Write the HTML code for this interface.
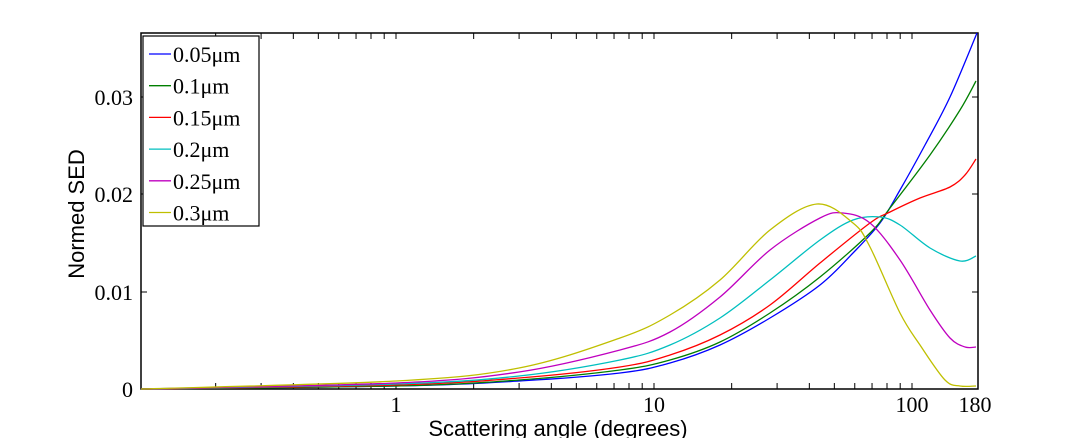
<!DOCTYPE html>
<html><head><style>
body{margin:0;background:#fff;}
svg text{font-family:"Liberation Serif",serif;font-size:22px;fill:#000;}
.s{font-family:"Liberation Sans",sans-serif;}
</style></head><body>
<svg id="c" width="1080" height="438" xmlns="http://www.w3.org/2000/svg">
<rect x="141" y="33" width="837" height="356" fill="#fff" stroke="#000" stroke-width="1.5"/>
<g id="ticks" stroke="#000" stroke-width="1"></g>
<g id="curves" fill="none" stroke-width="1.3"></g>
<text x="133" y="397" text-anchor="end">0</text>
<text x="133" y="300" text-anchor="end">0.01</text>
<text x="133" y="202" text-anchor="end">0.02</text>
<text x="133" y="105" text-anchor="end">0.03</text>
<text x="396" y="412" text-anchor="middle">1</text>
<text x="654" y="412" text-anchor="middle">10</text>
<text x="912" y="412" text-anchor="middle">100</text>
<text x="975" y="412" text-anchor="middle">180</text>
<text class="s" x="558" y="436" text-anchor="middle">Scattering angle (degrees)</text>
<text class="s" transform="translate(84,214) rotate(-90)" text-anchor="middle">Normed SED</text>
<rect x="143" y="36" width="116" height="190" fill="#fff" stroke="#000" stroke-width="1.2"/>
<g id="leg"></g>
</svg>
<script>
var ns="http://www.w3.org/2000/svg";
function el(p,t,a){var e=document.createElementNS(ns,t);for(var k in a)e.setAttribute(k,a[k]);p.appendChild(e);return e;}
var T=document.getElementById('ticks');
function X(v){return 396+258*Math.log10(v);}
[0.2,0.3,0.4,0.5,0.6,0.7,0.8,0.9,1,2,3,4,5,6,7,8,9,10,20,30,40,50,60,70,80,90,100].forEach(function(v){var x=X(v);
el(T,'line',{x1:x,x2:x,y1:389,y2:383});el(T,'line',{x1:x,x2:x,y1:33,y2:39});});
[389,292,194,97].forEach(function(y){el(T,'line',{x1:141,x2:147,y1:y,y2:y});el(T,'line',{x1:978,x2:972,y1:y,y2:y});});
var C=[
["#0000ff",[[141,389],[396,386],[519,381],[620,373],[670,363],[720,345],[770,318],[820,285],[853,253],[880,223],[900,190],[925,145],[950,97],[977,33]]],
["#007f00",[[141,389],[396,386],[519,380],[620,370],[670,360],[720,342],[770,313],[820,277],[870,233],[890,208],[930,155],[960,110],[976,81]]],
["#ff0000",[[141,389],[396,385],[519,378],[620,367],[670,355],[720,335],[770,305],[820,263],[870,223],[890,212],[920,198],[950,187],[965,175],[976,159]]],
["#00bfbf",[[141,389],[396,384],[519,376],[620,360],[670,345],[720,318],[770,280],[820,240],[853,220],[880,217],[900,225],[930,248],[960,261],[976,256]]],
["#bf00bf",[[141,389],[396,383],[519,372],[620,350],[670,332],[720,297],[770,250],[820,218],[843,213],[870,223],[900,260],[930,310],[950,338],[965,347],[976,347]]],
["#bfbf00",[[141,389],[396,381],[519,368],[620,338],[670,315],[720,280],[770,230],[817,204],[853,223],[870,247],[900,313],[920,345],[945,380],[960,386],[976,386]]]];
var G=document.getElementById('curves');
C.forEach(function(c){var p=c[1],d="M"+p[0][0]+","+p[0][1];
for(var i=0;i<p.length-1;i++){var p0=p[i-1]||p[i],p1=p[i],p2=p[i+1],p3=p[i+2]||p2;
d+=" C"+(p1[0]+(p2[0]-p0[0])/6)+","+(p1[1]+(p2[1]-p0[1])/6)+" "+(p2[0]-(p3[0]-p1[0])/6)+","+(p2[1]-(p3[1]-p1[1])/6)+" "+p2[0]+","+p2[1];}
el(G,'path',{d:d,stroke:c[0]});});
var L=document.getElementById('leg'),names=["0.05μm","0.1μm","0.15μm","0.2μm","0.25μm","0.3μm"];
names.forEach(function(n,i){var y=54+31.7*i;el(L,'line',{x1:149,x2:171,y1:y,y2:y,stroke:C[i][0],"stroke-width":1.3});
var t=el(L,'text',{x:173,y:y+8});t.textContent=n;});
</script>
</body></html>
